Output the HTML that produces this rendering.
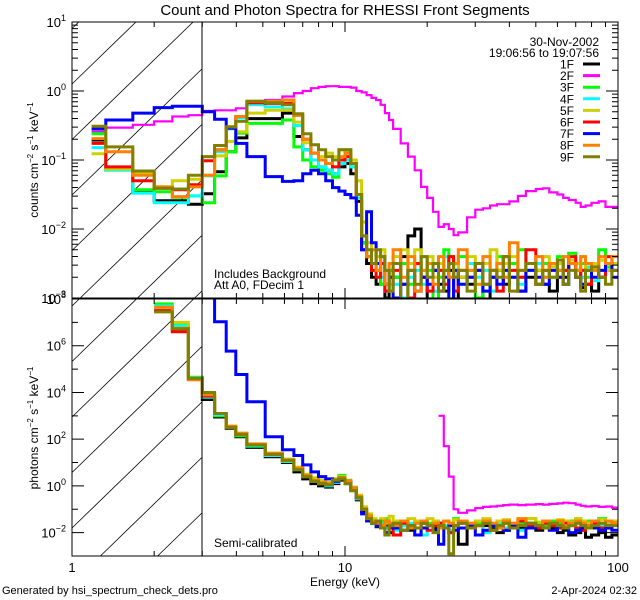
<!DOCTYPE html>
<html><head><meta charset="utf-8">
<style>
html,body{margin:0;padding:0;background:#fff;width:640px;height:600px;overflow:hidden;}
svg{display:block;font-family:"Liberation Sans",sans-serif;}
</style></head>
<body>
<svg id="chart" width="640" height="600" viewBox="0 0 640 600" xmlns="http://www.w3.org/2000/svg" overflow="hidden">
<defs>
<clipPath id="clipTop"><rect x="72" y="22" width="546" height="276"/></clipPath>
<clipPath id="clipBot"><rect x="72" y="299" width="546" height="257"/></clipPath>
</defs>
<rect x="0" y="0" width="640" height="600" fill="#fff"/>
<text x="345" y="15" font-size="15" text-anchor="middle">Count and Photon Spectra for RHESSI Front Segments</text>
<g id="hatch" stroke="#000" stroke-width="0.8"></g>
<g id="seriesTop" clip-path="url(#clipTop)"></g>
<g id="seriesBot" clip-path="url(#clipBot)"></g>
<g id="axes" stroke="#000" fill="none" stroke-width="1"></g>
<g id="labels" font-size="13" fill="#000"></g>
<g id="legend" font-size="12"></g>
<text x="214" y="278" font-size="12">Includes Background</text>
<text x="214" y="289" font-size="12">Att A0, FDecim 1</text>
<text x="214" y="547" font-size="12">Semi-calibrated</text>
<text x="345" y="586" font-size="12" text-anchor="middle">Energy (keV)</text>
<text x="2" y="594" font-size="11">Generated by hsi_spectrum_check_dets.pro</text>
<text x="637" y="594" font-size="11" text-anchor="end">2-Apr-2024 02:32</text>
<text transform="translate(38,160) rotate(-90)" font-size="12" text-anchor="middle">counts cm<tspan font-size="8" dy="-5">−2</tspan><tspan dy="5"> s</tspan><tspan font-size="8" dy="-5">−1</tspan><tspan dy="5"> keV</tspan><tspan font-size="8" dy="-5">−1</tspan></text>
<text transform="translate(38,428) rotate(-90)" font-size="12" text-anchor="middle">photons cm<tspan font-size="8" dy="-5">−2</tspan><tspan dy="5"> s</tspan><tspan font-size="8" dy="-5">−1</tspan><tspan dy="5"> keV</tspan><tspan font-size="8" dy="-5">−1</tspan></text>
</svg>
<script>
// ---- data ----
const edges = [1.18,1.33,1.67,2.0,2.33,2.67,3.0,3.33,3.67,3.98,4.37,5.1,5.9,6.5,7.0,7.5,8.0,8.5,9.0,9.5,10,10.5,11,11.5,12,12.5,13,13.5,14,14.5,15,16,17,18,19,20,21,22,23,24,25,26,28,30,32,34,36,38,40,43,46,50,53,56,60,63,66,70,73,76,80,85,90,95,100];
const seriesNames = ["1F","2F","3F","4F","5F","6F","7F","8F","9F"];
const seriesColors = ["#000000","#ff00ff","#00ff00","#00ffff","#d0d000","#ff0000","#0000ff","#ff8000","#808000"];
// log10 counts (top panel)
const top1F = [-0.71,-1.14,-1.47,-1.59,-1.59,-1.64,-1.49,-1.17,-0.88,-0.68,-0.40,-0.40,-0.32,-0.66,-0.85,-1.0,-1.1,-1.15,-1.2,-1.1,-1.05,-1.2,-1.6,-2.2,-2.5,-2.7,-2.8,-2.5,-3.0,-2.6,-2.7,-2.4,-2.1,-2.0,-2.7,-3.2,-2.6,-2.8,-2.9,-2.6,-3.1,-2.7,-2.8,-2.6,-3.2,-2.7,-2.6,-2.8,-2.5,-2.9,-2.7,-2.6,-2.8,-2.9,-2.6,-2.7,-2.5,-2.6,-2.85,-2.8,-2.9,-2.7,-2.6,-2.5];
const top2F = [-0.59,-0.53,-0.49,-0.44,-0.37,-0.35,-0.29,-0.28,-0.28,-0.25,-0.20,-0.13,-0.08,-0.03,0.0,0.04,0.06,0.07,0.07,0.06,0.06,0.05,0.0,-0.02,-0.06,-0.1,-0.13,-0.2,-0.32,-0.42,-0.55,-0.76,-0.95,-1.15,-1.39,-1.55,-1.75,-1.97,-1.93,-2.0,-2.09,-2.05,-1.83,-1.72,-1.7,-1.66,-1.64,-1.64,-1.6,-1.52,-1.45,-1.42,-1.41,-1.47,-1.5,-1.55,-1.58,-1.62,-1.68,-1.66,-1.62,-1.6,-1.68,-1.68];
const top3F = [-0.62,-1.14,-1.43,-1.46,-1.54,-1.52,-1.62,-1.23,-0.88,-0.61,-0.47,-0.47,-0.42,-0.81,-1.0,-1.1,-1.15,-1.2,-1.25,-1.0,-0.85,-1.1,-1.5,-2.2,-2.4,-2.6,-2.5,-2.8,-2.9,-2.6,-2.7,-2.5,-2.8,-2.9,-2.4,-2.6,-3.1,-2.7,-2.3,-2.5,-2.7,-2.4,-2.6,-3.0,-2.5,-2.6,-2.4,-2.7,-2.5,-2.3,-2.6,-2.8,-2.5,-2.7,-2.4,-2.6,-2.35,-2.6,-2.5,-2.7,-2.6,-2.3,-2.55,-2.5];
const top4F = [-0.82,-1.15,-1.48,-1.62,-1.62,-1.52,-1.23,-0.88,-0.55,-0.39,-0.20,-0.23,-0.26,-0.5,-0.85,-1.0,-1.1,-1.15,-1.2,-1.05,-1.0,-1.1,-1.55,-2.1,-2.4,-2.5,-2.6,-2.7,-2.9,-2.5,-2.8,-3.0,-2.7,-2.6,-2.8,-2.5,-2.9,-2.6,-2.4,-2.7,-2.6,-2.8,-2.5,-2.7,-2.6,-2.9,-2.5,-2.4,-2.7,-2.8,-2.6,-2.5,-2.7,-2.55,-2.6,-2.8,-2.5,-2.6,-2.7,-2.55,-2.75,-2.6,-2.5,-2.6];
const top5F = [-0.91,-1.13,-1.19,-1.39,-1.30,-1.28,-1.22,-0.94,-0.73,-0.59,-0.32,-0.28,-0.28,-0.45,-0.75,-0.9,-0.95,-0.9,-0.95,-0.85,-0.9,-1.0,-1.3,-1.9,-2.2,-2.3,-2.4,-2.3,-2.6,-2.8,-2.4,-2.3,-2.5,-2.3,-2.6,-2.4,-2.7,-2.5,-2.6,-2.4,-2.5,-2.7,-2.4,-2.6,-2.5,-2.3,-2.6,-2.5,-2.4,-2.7,-2.5,-2.6,-2.4,-2.55,-2.5,-2.6,-2.45,-2.5,-2.4,-2.6,-2.5,-2.45,-2.6,-2.5];
const top6F = [-0.76,-1.10,-1.30,-1.41,-1.43,-1.36,-1.01,-0.85,-0.52,-0.37,-0.17,-0.18,-0.18,-0.35,-0.7,-0.9,-1.0,-1.05,-1.1,-1.0,-0.95,-1.05,-1.5,-2.3,-2.4,-2.6,-2.7,-2.5,-2.9,-2.7,-2.6,-2.8,-3.0,-2.5,-2.7,-2.9,-2.5,-2.6,-2.8,-2.4,-2.9,-2.6,-2.7,-2.5,-2.8,-2.6,-2.9,-2.4,-2.6,-2.7,-2.3,-2.8,-2.6,-2.5,-2.7,-2.6,-2.4,-2.7,-2.6,-2.8,-2.55,-2.7,-2.4,-2.6];
const top7F = [-0.55,-0.42,-0.32,-0.24,-0.22,-0.22,-0.30,-0.41,-0.54,-0.76,-0.95,-1.24,-1.31,-1.3,-1.2,-1.15,-1.2,-1.3,-1.4,-1.45,-1.5,-1.55,-1.8,-2.3,-1.75,-2.2,-2.5,-2.4,-2.8,-2.7,-3.0,-2.8,-2.6,-2.9,-2.7,-2.8,-2.6,-2.9,-2.7,-3.1,-2.6,-2.8,-2.7,-2.6,-2.9,-2.7,-2.8,-2.6,-2.7,-2.9,-2.6,-2.7,-2.8,-2.6,-2.7,-2.8,-2.5,-2.7,-2.8,-2.6,-2.7,-2.6,-2.5,-2.7];
const top8F = [-0.69,-0.88,-1.22,-1.39,-1.53,-1.39,-1.22,-0.85,-0.52,-0.37,-0.15,-0.15,-0.13,-0.35,-0.7,-0.9,-1.0,-1.05,-1.0,-0.95,-0.9,-1.05,-1.5,-2.1,-2.4,-2.3,-2.6,-2.4,-2.8,-2.5,-2.3,-2.7,-2.4,-2.9,-2.6,-2.5,-2.8,-2.4,-2.6,-2.7,-2.5,-2.3,-2.6,-2.8,-2.4,-2.6,-2.5,-2.7,-2.2,-2.6,-2.5,-2.4,-2.7,-2.5,-2.6,-2.4,-2.5,-2.6,-2.4,-2.5,-2.6,-2.4,-2.5,-2.4];
const top9F = [-0.51,-0.81,-1.16,-1.41,-1.42,-1.22,-0.95,-0.79,-0.52,-0.44,-0.15,-0.17,-0.2,-0.33,-0.62,-0.78,-0.85,-0.95,-1.0,-0.85,-0.85,-1.05,-1.5,-2.1,-2.3,-2.5,-2.3,-2.4,-2.6,-2.9,-2.5,-3.1,-2.6,-2.8,-2.4,-2.7,-2.5,-2.9,-2.6,-2.5,-2.7,-2.6,-2.9,-2.5,-2.8,-2.6,-2.7,-2.4,-2.9,-2.6,-2.5,-2.8,-2.6,-2.7,-2.45,-2.8,-2.6,-2.7,-2.9,-2.6,-2.55,-2.7,-2.8,-2.6];
// log10 photons (bottom panel)
const bot1F = [null,null,null,7.5,6.73,4.6,3.7,2.95,2.47,2.1,1.65,1.25,1.0,0.6,0.3,0.1,0.0,-0.05,0.1,0.25,0.1,-0.2,-0.6,-1.1,-1.4,-1.6,-1.75,-1.8,-1.7,-2.0,-1.6,-1.7,-1.9,-1.8,-1.6,-1.7,-1.8,-1.6,-1.75,-2.0,-1.7,-2.5,-1.8,-1.6,-1.7,-1.8,-2.0,-1.9,-1.7,-1.8,-1.6,-1.9,-1.7,-1.8,-2.0,-1.9,-2.1,-2.0,-1.9,-2.2,-2.1,-2.0,-2.2,-2.1];
const bot2F = [null,null,null,null,null,null,null,null,null,null,null,null,null,null,null,null,null,null,null,null,null,null,null,null,null,null,null,null,null,null,null,null,null,null,null,null,null,3.0,1.7,0.4,-1.0,-1.15,-1.05,-0.95,-0.9,-0.88,-0.85,-0.82,-0.8,-0.82,-0.8,-0.78,-0.8,-0.77,-0.75,-0.72,-0.74,-0.8,-0.85,-0.88,-0.86,-0.9,-0.88,-0.93];
const bot3F = [null,null,null,7.79,6.9,4.65,3.8,3.0,2.5,2.15,1.7,1.3,1.05,0.7,0.4,0.2,0.1,0.05,0.3,0.45,0.2,-0.2,-0.5,-1.0,-1.3,-1.5,-1.6,-1.5,-1.4,-1.8,-1.5,-1.6,-1.7,-1.5,-1.8,-1.6,-1.7,-1.8,-1.5,-1.6,-1.4,-1.5,-1.7,-1.6,-1.5,-1.7,-1.6,-1.5,-1.7,-1.6,-1.4,-1.6,-1.7,-1.5,-1.6,-1.7,-1.5,-1.4,-1.6,-1.5,-1.7,-1.4,-1.6,-1.5];
const bot4F = [null,null,null,7.7,6.85,4.62,3.8,3.05,2.5,2.2,1.72,1.3,1.05,0.7,0.4,0.2,0.1,0.0,0.15,0.3,0.15,-0.2,-0.55,-1.0,-1.4,-1.6,-1.7,-1.6,-1.8,-1.7,-1.9,-1.7,-1.6,-1.8,-2.1,-1.7,-1.6,-1.8,-1.7,-1.9,-1.7,-1.6,-1.8,-1.7,-2.0,-1.7,-1.6,-1.8,-1.7,-1.9,-1.7,-1.8,-1.6,-1.7,-1.8,-1.6,-1.7,-1.9,-1.7,-1.6,-1.8,-1.7,-1.6,-1.7];
const bot5F = [null,null,null,7.65,7.0,4.6,3.9,3.1,2.55,2.25,1.78,1.4,1.15,0.8,0.5,0.35,0.25,0.15,0.3,0.4,0.25,-0.05,-0.4,-0.9,-1.2,-1.4,-1.5,-1.4,-1.6,-1.3,-1.5,-1.6,-1.4,-1.5,-1.6,-1.4,-1.5,-1.7,-1.5,-1.6,-1.45,-1.5,-1.6,-1.5,-1.4,-1.6,-1.5,-1.45,-1.6,-1.5,-1.4,-1.55,-1.5,-1.6,-1.45,-1.5,-1.55,-1.4,-1.5,-1.6,-1.5,-1.45,-1.55,-1.5];
const bot6F = [null,null,null,7.5,6.6,4.55,3.85,3.1,2.5,2.2,1.75,1.35,1.1,0.75,0.4,0.2,0.1,0.05,0.2,0.3,0.15,-0.15,-0.5,-1.0,-1.3,-1.5,-1.6,-1.7,-1.5,-1.8,-2.1,-1.6,-1.7,-1.8,-1.6,-1.9,-1.7,-1.6,-1.8,-2.0,-1.7,-1.6,-1.8,-1.7,-1.6,-1.9,-1.7,-1.6,-1.8,-1.5,-1.7,-1.8,-1.6,-1.7,-1.8,-1.6,-1.7,-1.8,-1.9,-1.7,-1.6,-1.8,-1.7,-1.6];
const bot7F = [null,null,null,null,null,null,8.5,7.03,5.77,4.77,3.6,2.1,1.55,1.3,0.9,0.6,0.4,0.3,0.2,0.35,0.2,-0.1,-0.5,-1.2,-1.5,-1.6,-1.7,-1.8,-2.0,-1.7,-1.8,-1.9,-1.7,-2.1,-1.8,-1.7,-1.9,-2.5,-1.8,-1.7,-1.9,-1.8,-1.7,-2.1,-1.9,-1.7,-1.8,-1.9,-1.7,-2.2,-1.8,-1.7,-1.8,-1.9,-1.7,-1.8,-2.0,-1.9,-1.8,-1.7,-1.8,-1.9,-1.8,-1.9];
const bot8F = [null,null,null,7.65,6.75,4.55,3.9,3.1,2.55,2.25,1.8,1.4,1.1,0.75,0.45,0.25,0.15,0.1,0.25,0.35,0.2,-0.1,-0.45,-1.0,-1.3,-1.5,-1.6,-1.7,-1.5,-1.6,-1.7,-1.5,-1.8,-1.6,-1.5,-1.7,-1.6,-1.8,-1.5,-1.6,-1.7,-1.5,-1.6,-1.7,-1.5,-1.6,-1.8,-1.5,-1.6,-1.4,-1.6,-1.7,-1.5,-1.6,-1.5,-1.7,-1.6,-1.5,-1.6,-1.7,-1.5,-1.6,-1.5,-1.6];
const bot9F = [null,null,null,7.45,6.73,4.6,4.0,3.1,2.5,2.2,1.75,1.35,1.1,0.7,0.4,0.2,0.1,0.05,0.25,0.3,0.1,-0.2,-0.5,-1.0,-1.4,-1.6,-1.5,-1.8,-2.1,-1.7,-1.6,-1.9,-1.7,-1.8,-1.6,-1.7,-2.0,-1.7,-1.8,-2.9,-1.7,-1.6,-1.8,-1.7,-1.6,-1.9,-1.7,-1.6,-1.8,-1.7,-1.6,-1.7,-1.8,-1.6,-1.7,-1.8,-1.7,-1.6,-1.7,-1.8,-1.7,-1.6,-1.7,-1.7];
const topSeries = [top1F,top2F,top3F,top4F,top5F,top6F,top7F,top8F,top9F];
const botSeries = [bot1F,bot2F,bot3F,bot4F,bot5F,bot6F,bot7F,bot8F,bot9F];
const topTickExps = [1,0,-1,-2,-3];
const botTickExps = [8,6,4,2,0,-2];
const xTickLabels = ["1","10","100"];

// ---- axes ----
const NS = "http://www.w3.org/2000/svg";
const X0 = 72, X1 = 618;
const xScale = e => X0 + (X1 - X0) * Math.log10(e) / 2;
const TOP = {y0: 22, y1: 298, lo: -3, hi: 1};
const BOT = {y0: 299, y1: 556, lo: -3, hi: 8};
const yScale = (p, v) => p.y1 - (v - p.lo) / (p.hi - p.lo) * (p.y1 - p.y0);

function mk(tag, attrs, parent) {
  const el = document.createElementNS(NS, tag);
  for (const k in attrs) el.setAttribute(k, attrs[k]);
  parent.appendChild(el);
  return el;
}

// hatch (lines clipped manually to x 72..202, y 22..556)
const hatch = document.getElementById("hatch");
const SL = 0.97;
for (let k = -3; k < 14; k++) {
  const c = 84 + 55.5 * k;
  let xa = Math.max(72, 72 + (c - 556) / SL);
  let xb = Math.min(202, 72 + (c - 22) / SL);
  if (xb <= xa) continue;
  const ln = mk("line", {x1: xa.toFixed(1), y1: (c - SL * (xa - 72)).toFixed(1), x2: xb.toFixed(1), y2: (c - SL * (xb - 72)).toFixed(1)}, hatch);
  
  
}

function drawSeries(group, panel, data, color, idx, panelName) {
  let d = "";
  let open = false;
  for (let i = 0; i < edges.length - 1 && i < data.length; i++) {
    const v = data[i];
    if (v === null || v === undefined) { open = false; continue; }
    const xa = xScale(edges[i]), xb = xScale(edges[i + 1]);
    const y = Math.max(panel.y0 - 4, Math.min(panel.y1 + 4, yScale(panel, v)));
    d += (open ? "L" : "M") + xa.toFixed(1) + " " + y.toFixed(1) + "L" + xb.toFixed(1) + " " + y.toFixed(1);
    open = true;
  }
  const p = mk("path", {d: d, fill: "none", stroke: color, "stroke-width": idx === 1 ? 2.2 : 3, "stroke-linejoin": "miter"}, group);
  
  
}
const gTop = document.getElementById("seriesTop");
const gBot = document.getElementById("seriesBot");
topSeries.forEach((s, i) => drawSeries(gTop, TOP, s, seriesColors[i], i, 'count'));
botSeries.forEach((s, i) => drawSeries(gBot, BOT, s, seriesColors[i], i, 'photon'));

// frames & ticks
const axes = document.getElementById("axes");
const f1 = mk("rect", {x: X0, y: TOP.y0, width: X1 - X0, height: TOP.y1 - TOP.y0}, axes);


const f2 = mk("rect", {x: X0, y: BOT.y0, width: X1 - X0, height: BOT.y1 - BOT.y0}, axes);


const vl = mk("line", {x1: 202, y1: 22, x2: 202, y2: 556}, axes);



let td = "";
for (let dec = 0; dec < 2; dec++) {
  for (let m = 1; m <= 10; m++) {
    const e = m * Math.pow(10, dec);
    if (e === 1 || e === 100) continue;
    const x = xScale(e);
    const len = (m === 10) ? 10 : 5;
    for (const p of [TOP, BOT]) {
      td += `M${x} ${p.y1}v${-len}M${x} ${p.y0}v${len}`;
    }
  }
}
for (let v = TOP.lo; v < TOP.hi; v++) {
  for (let m = 1; m <= 9; m++) {
    const y = yScale(TOP, v + Math.log10(m));
    const len = m === 1 ? 12 : 6;
    td += `M${X0} ${y}h${len}M${X1} ${y}h${-len}`;
  }
}
for (let v = BOT.lo; v <= BOT.hi; v++) {
  const y = yScale(BOT, v);
  const len = (v % 2 === 0) ? 12 : 6;
  td += `M${X0} ${y}h${len}M${X1} ${y}h${-len}`;
}
const tp = mk("path", {d: td}, axes);



// labels
const labels = document.getElementById("labels");
function powLabel(exp, y, name) {
  const t = mk("text", {x: 66, y: y + 5, "text-anchor": "end"}, labels);
  
  
  const a = mk("tspan", {}, t); a.textContent = "10";
  const b = mk("tspan", {"font-size": 9, dy: -6}, t); b.textContent = exp < 0 ? "−" + (-exp) : String(exp);
}
topTickExps.forEach(e => powLabel(e, yScale(TOP, e), 'top-y-tick-label'));
botTickExps.forEach(e => powLabel(e, yScale(BOT, e), 'bottom-y-tick-label'));
xTickLabels.forEach(s => {
  const t = mk("text", {x: xScale(parseFloat(s)), y: 572, "text-anchor": "middle"}, labels);
  
  
  t.textContent = s;
});

// legend
const legend = document.getElementById("legend");
const h1 = mk("text", {x: 599, y: 46, "text-anchor": "end"}, legend);


h1.textContent = "30-Nov-2002";
const h2 = mk("text", {x: 599, y: 57, "text-anchor": "end"}, legend);


h2.textContent = "19:06:56 to 19:07:56";
seriesNames.forEach((n, i) => {
  const y = 64 + i * 11.6;
  const t = mk("text", {x: 574, y: y + 4.5, "text-anchor": "end"}, legend);
  
  
  t.textContent = n;
  const l = mk("line", {x1: 583, y1: y, x2: 600, y2: y, stroke: seriesColors[i], "stroke-width": 3}, legend);
  
  
});
</script>
</body></html>
